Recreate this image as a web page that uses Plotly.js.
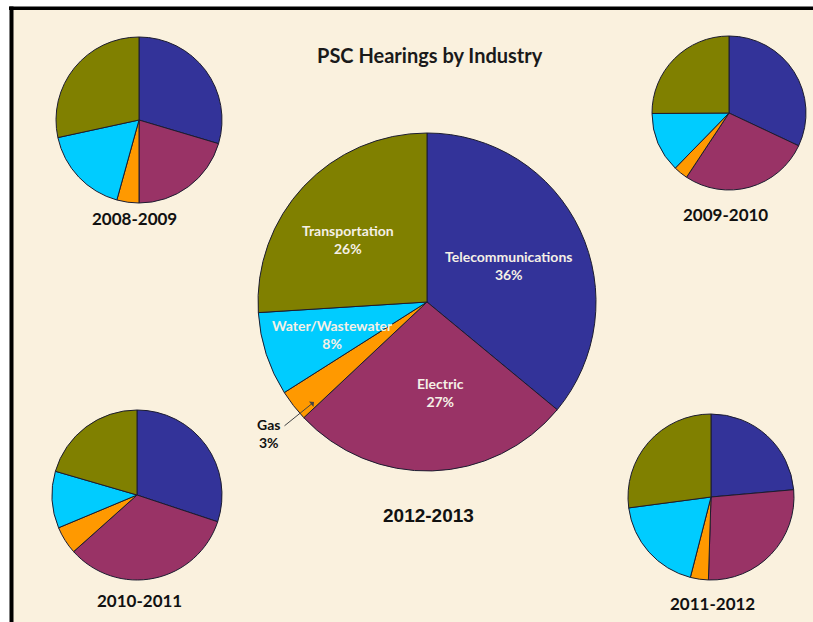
<!DOCTYPE html>
<html>
<head>
<meta charset="utf-8">
<script src="https://cdn.plot.ly/plotly-3.0.1.min.js"></script>
<style>
html,body{margin:0;padding:0;background:#ffffff;}
#chart{width:813px;height:622px;}
</style>
</head>
<body>
<div id="chart"></div>
<script>
// ---- data ----
var categories = ['Telecommunications', 'Electric', 'Gas', 'Water/Wastewater', 'Transportation'];
var colors = ['#333399', '#993366', '#FF9900', '#00CCFF', '#808000'];
var years = ['2008-2009', '2009-2010', '2010-2011', '2011-2012', '2012-2013'];
var v2008 = [29.6, 20.4, 4.3, 17.3, 28.4];
var v2009 = [32.0, 27.3, 3.0, 12.6, 25.1];
var v2010 = [30.1, 33.3, 5.3, 10.8, 20.5];
var v2011 = [23.6, 26.9, 3.5, 18.9, 27.1];
var v2012 = [36, 27, 3, 8, 26];
var chartTitle = 'PSC Hearings by Industry';

// ---- layout helpers ----
var W = 813, H = 622;
function px(x) { return x / W; }
function py(y) { return 1 - y / H; }
function dom(cx, cy, r) {
  return { x: [px(cx - r), px(cx + r)], y: [py(cy + r), py(cy - r)] };
}

var pieGeom = [
  { cx: 139, cy: 120, r: 83, vals: v2008, lx: 134, ly: 218 },
  { cx: 729, cy: 113, r: 77, vals: v2009, lx: 725, ly: 214 },
  { cx: 137, cy: 495, r: 85, vals: v2010, lx: 139, ly: 600 },
  { cx: 711, cy: 497, r: 83, vals: v2011, lx: 712, ly: 603 },
  { cx: 427, cy: 302, r: 169, vals: v2012, lx: 428, ly: 515 }
];

var data = pieGeom.map(function (g, i) {
  return {
    type: 'pie',
    name: years[i],
    labels: categories,
    values: g.vals,
    sort: false,
    direction: 'clockwise',
    rotation: 0,
    textinfo: 'none',
    hoverinfo: 'skip',
    domain: dom(g.cx, g.cy, g.r),
    marker: { colors: colors, line: { color: '#1c1c30', width: 1 } }
  };
});

var fontCal = 'Lato, "Open Sans", "Liberation Sans", sans-serif';
var annotations = [];

// title
annotations.push({
  text: '<b>' + chartTitle + '</b>', x: px(430), y: py(55), xref: 'paper', yref: 'paper',
  showarrow: false, xanchor: 'center', yanchor: 'middle',
  font: { family: fontCal, size: 20, color: '#1a1a1a' }
});

// year labels
pieGeom.forEach(function (g, i) {
  var main = (i === 4);
  annotations.push({
    text: '<b>' + years[i] + '</b>', x: px(g.lx), y: py(g.ly), xref: 'paper', yref: 'paper',
    showarrow: false, xanchor: 'center', yanchor: 'middle',
    font: main ? { family: '"Liberation Sans", Arial, sans-serif', size: 19, color: '#111111' }
               : { family: fontCal, size: 17, color: '#111111' }
  });
});

// main pie slice labels
var labelPos = [
  { x: 508, y: 266, c: '#F5F0E6' },  // Telecommunications
  { x: 440, y: 392, c: '#F5F0E6' },  // Electric
  { x: 268, y: 433, c: '#111111' },  // Gas (outside)
  { x: 332, y: 334, c: '#F5F0E6' },  // Water/Wastewater
  { x: 348, y: 239, c: '#F5F0E6' }   // Transportation
];
categories.forEach(function (c, i) {
  annotations.push({
    text: '<b>' + c + '</b><br><b>' + v2012[i] + '%</b>',
    x: px(labelPos[i].x), y: py(labelPos[i].y), xref: 'paper', yref: 'paper',
    showarrow: false, xanchor: 'center', yanchor: 'middle', align: 'center',
    font: { family: fontCal, size: 14, color: labelPos[i].c }
  });
});

// arrow for Gas
annotations.push({
  text: '', x: px(314), y: py(402), xref: 'paper', yref: 'paper',
  showarrow: true, ax: -31, ay: 25, arrowhead: 1, arrowsize: 1.2,
  arrowwidth: 1, arrowcolor: '#444444', standoff: 0, startstandoff: 0
});

var shapes = [
  // parchment area
  { type: 'rect', xref: 'paper', yref: 'paper', x0: px(12), x1: 1, y0: 0, y1: py(8),
    fillcolor: '#FAF1DE', line: { width: 0 }, layer: 'below' },
  // top black border
  { type: 'rect', xref: 'paper', yref: 'paper', x0: px(9), x1: 1, y0: py(10), y1: py(6.5),
    fillcolor: '#000000', line: { width: 0 }, layer: 'below' },
  // left black border
  { type: 'rect', xref: 'paper', yref: 'paper', x0: px(9.5), x1: px(13.5), y0: 0, y1: py(6.5),
    fillcolor: '#000000', line: { width: 0 }, layer: 'below' }
];

var layout = {
  width: W, height: H,
  margin: { l: 0, r: 0, t: 0, b: 0 },
  paper_bgcolor: '#ffffff',
  plot_bgcolor: 'rgba(0,0,0,0)',
  showlegend: false,
  hovermode: false,
  annotations: annotations,
  shapes: shapes
};

Plotly.newPlot('chart', data, layout, { displayModeBar: false, staticPlot: true });
</script>
</body>
</html>
